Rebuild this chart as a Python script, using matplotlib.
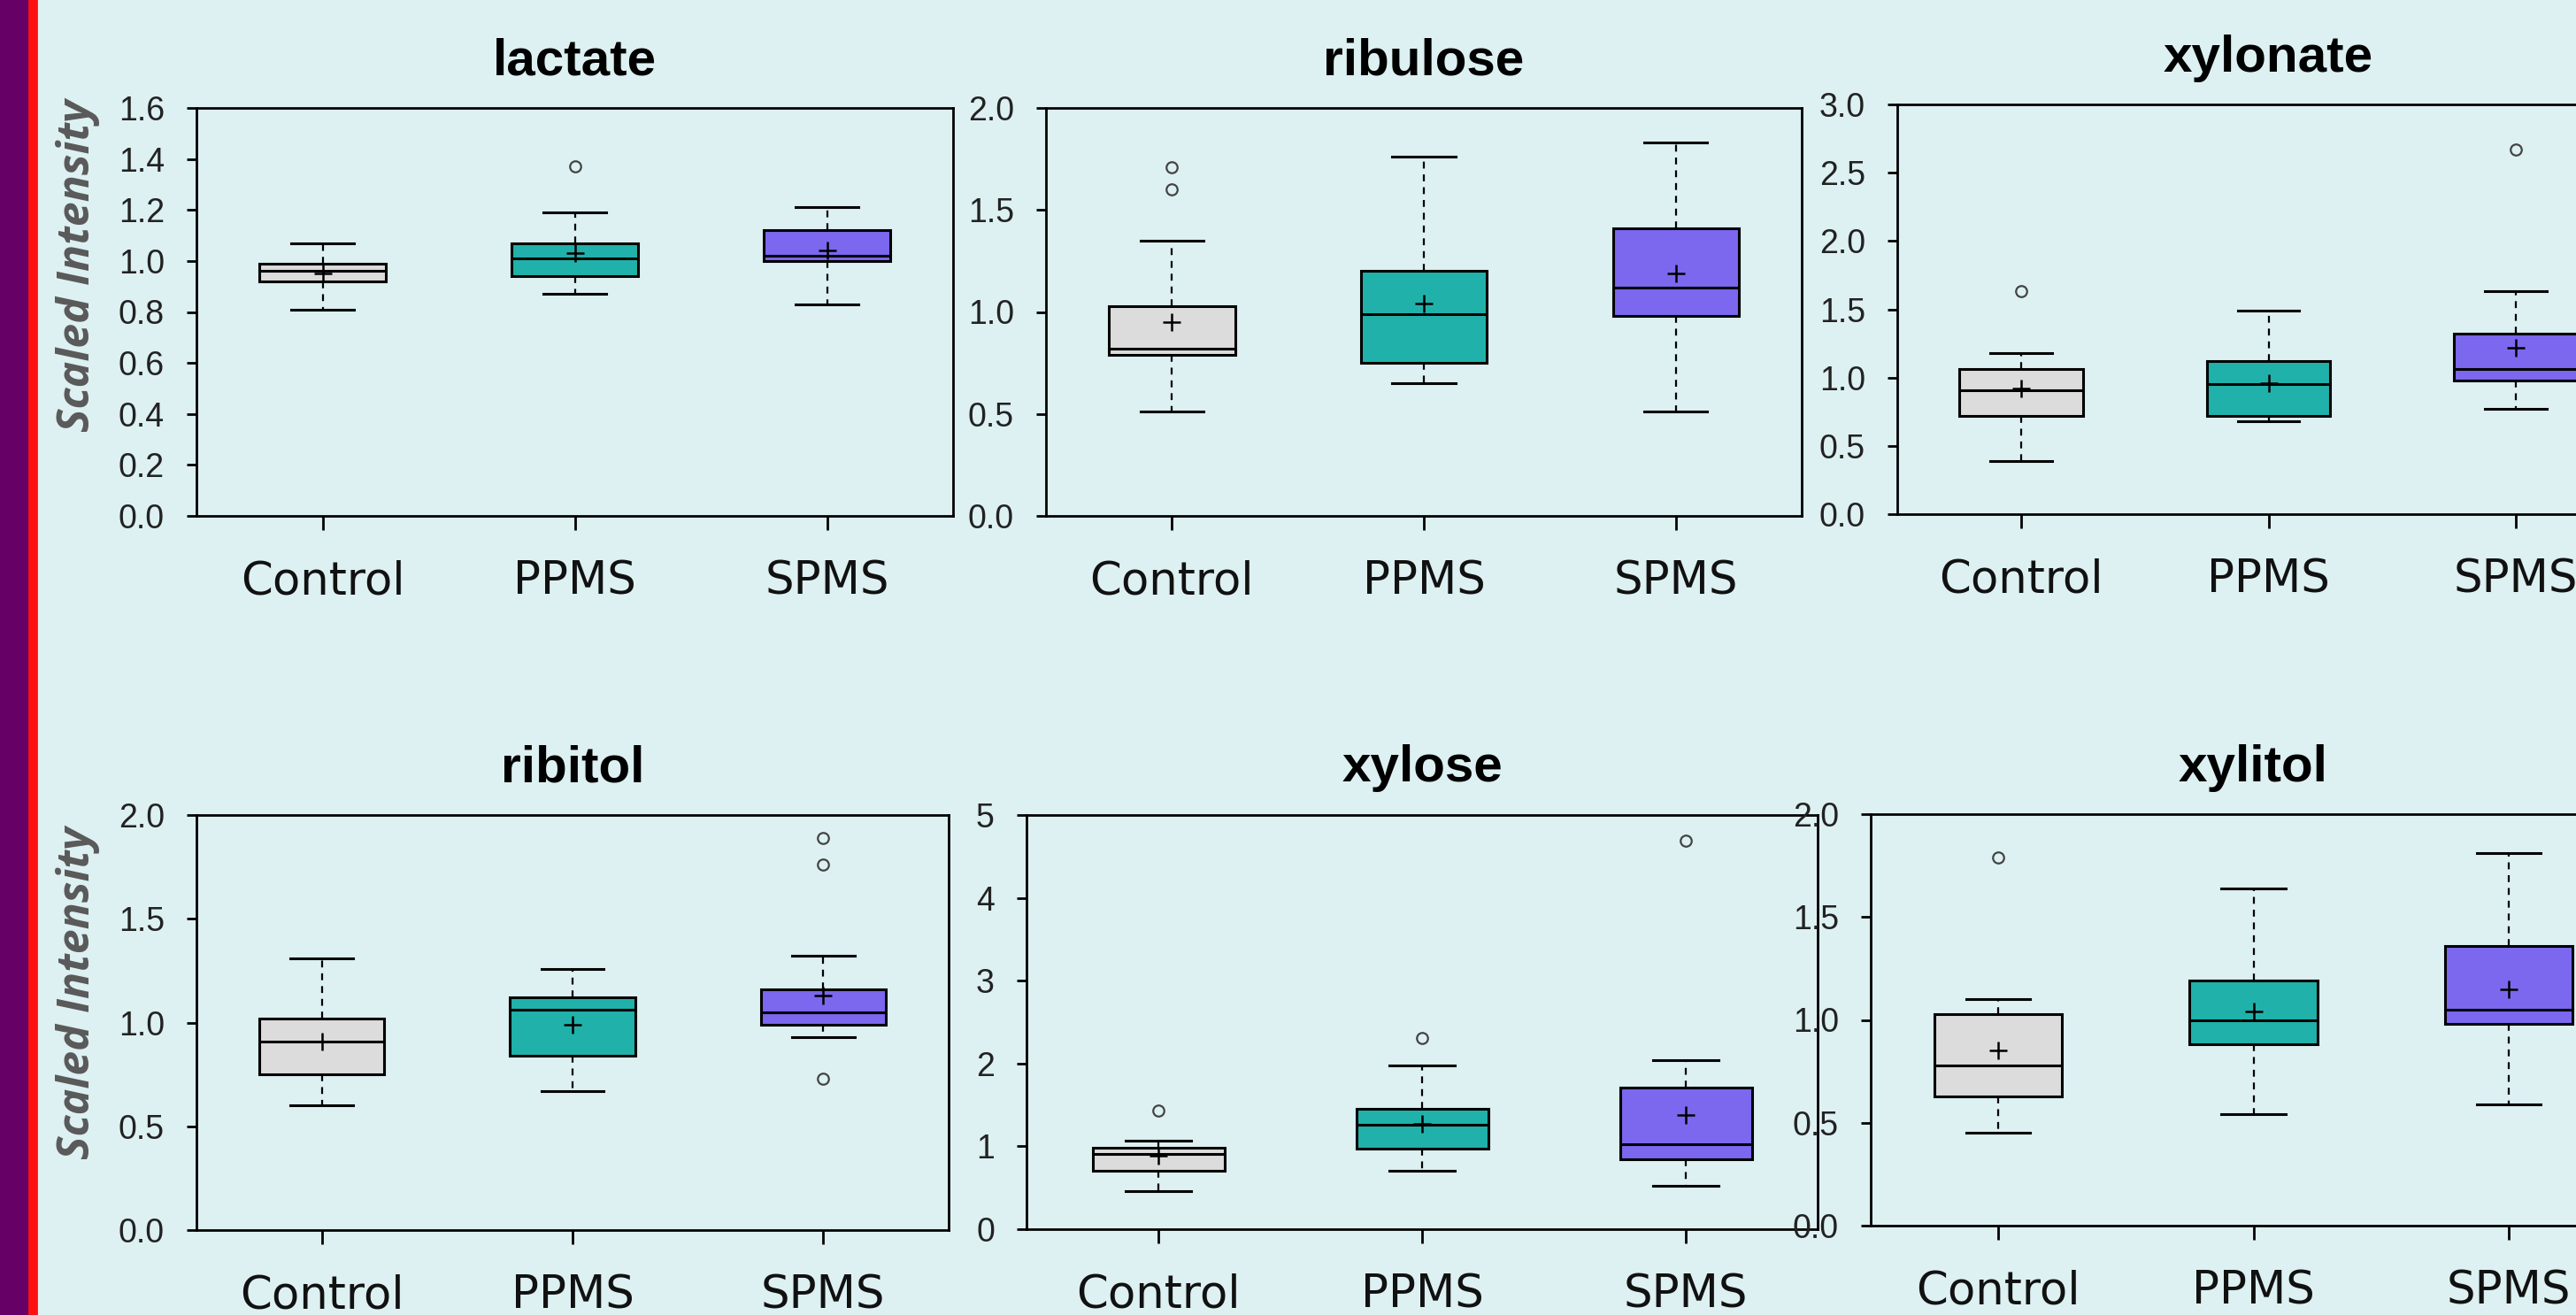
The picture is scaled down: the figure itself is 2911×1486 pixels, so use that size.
import matplotlib.pyplot as plt
from matplotlib.patches import Rectangle

# --- DATA ---
groups = ["Control", "PPMS", "SPMS"]
metabolites = ["lactate", "ribulose", "xylonate", "ribitol", "xylose", "xylitol"]

# one row per metabolite, one value per group
whisker_low = [[0.81, 0.87, 0.83], [0.51, 0.65, 0.51], [0.39, 0.68, 0.77],
               [0.60, 0.67, 0.93], [0.46, 0.71, 0.52], [0.45, 0.54, 0.59]]
q1 = [[0.92, 0.94, 1.00], [0.79, 0.75, 0.98], [0.72, 0.72, 0.98],
      [0.75, 0.84, 0.99], [0.71, 0.97, 0.84], [0.63, 0.88, 0.98]]
median = [[0.96, 1.01, 1.02], [0.82, 0.99, 1.12], [0.91, 0.95, 1.06],
          [0.91, 1.06, 1.05], [0.91, 1.26, 1.03], [0.78, 1.00, 1.05]]
mean = [[0.95, 1.03, 1.04], [0.95, 1.04, 1.19], [0.92, 0.96, 1.22],
        [0.91, 0.99, 1.13], [0.89, 1.27, 1.38], [0.85, 1.04, 1.15]]
q3 = [[0.99, 1.07, 1.12], [1.03, 1.20, 1.41], [1.06, 1.12, 1.32],
      [1.02, 1.12, 1.16], [0.98, 1.45, 1.71], [1.03, 1.19, 1.36]]
whisker_high = [[1.07, 1.19, 1.21], [1.35, 1.76, 1.83], [1.18, 1.49, 1.63],
                [1.31, 1.26, 1.32], [1.07, 1.98, 2.04], [1.10, 1.64, 1.81]]
outliers = [[[], [1.37], []],
            [[1.71, 1.60], [], []],
            [[1.63], [], [2.67]],
            [[], [], [1.89, 1.76, 0.73]],
            [[1.43], [2.31], [4.69]],
            [[1.79], [], []]]

# --- LAYOUT ---
W, H = 2911, 1486
DPI = 200
BG = "#DDF0F2"
box_colors = ["#DCDCDC", "#20B2AA", "#7B68EE"]

# axes boxes in pixels: left, right, top, bottom
panel_px = [(222, 1077, 122, 583), (1182, 2036, 122, 583), (2144, 2983, 118, 581),
            (222, 1072, 921, 1390), (1160, 2054, 921, 1389), (2114, 2979, 920, 1385)]
y_max = [1.6, 2.0, 3.0, 2.0, 5.0, 2.0]
y_step = [0.2, 0.5, 0.5, 0.5, 1.0, 0.5]
y_fmt = ["%.1f", "%.1f", "%.1f", "%.1f", "%d", "%.1f"]

fig = plt.figure(figsize=(W / DPI, H / DPI), dpi=DPI, facecolor=BG)

# left edge strip
fig.patches.append(Rectangle((0, 0), 33 / W, 1, transform=fig.transFigure,
                             color="#660066", zorder=0))
fig.patches.append(Rectangle((33 / W, 0), 8 / W, 1, transform=fig.transFigure,
                             color="#FF1010", zorder=0))

for i, name in enumerate(metabolites):
    x0, x1, yt, yb = panel_px[i]
    ax = fig.add_axes([x0 / W, 1 - yb / H, (x1 - x0) / W, (yb - yt) / H])
    ax.set_facecolor("none")

    stats = []
    for g in range(3):
        stats.append({"whislo": whisker_low[i][g], "q1": q1[i][g],
                      "med": median[i][g], "q3": q3[i][g],
                      "whishi": whisker_high[i][g], "mean": mean[i][g],
                      "fliers": outliers[i][g], "label": groups[g]})

    bp = ax.bxp(stats, positions=[1, 2, 3], widths=0.5, patch_artist=True,
                showmeans=True,
                boxprops=dict(linewidth=1.1, edgecolor="black"),
                medianprops=dict(color="black", linewidth=1.1),
                whiskerprops=dict(color="black", linewidth=0.8, linestyle=(0, (3.5, 3))),
                capprops=dict(color="black", linewidth=1.1),
                meanprops=dict(marker="+", markersize=7, markeredgecolor="black",
                               markeredgewidth=0.9),
                flierprops=dict(marker="o", markersize=4.5, markerfacecolor="none",
                                markeredgecolor="#444444", markeredgewidth=0.8))
    for patch, c in zip(bp["boxes"], box_colors):
        patch.set_facecolor(c)

    ax.set_xlim(0.5, 3.5)
    ax.set_ylim(0, y_max[i])
    n_ticks = int(round(y_max[i] / y_step[i])) + 1
    ticks = [k * y_step[i] for k in range(n_ticks)]
    ax.set_yticks(ticks)
    ax.set_yticklabels([y_fmt[i] % t for t in ticks],
                       family=["Liberation Sans Narrow", "Liberation Sans"],
                       fontsize=13.5, color="#222222")
    ax.set_xticks([1, 2, 3])
    ax.set_xticklabels(groups, family="DejaVu Sans", fontsize=18.5, color="#111111")

    for sp in ax.spines.values():
        sp.set_linewidth(1.0)
    ax.tick_params(axis="y", length=4, width=1.0, pad=9)
    ax.tick_params(axis="x", length=5.7, width=1.0, pad=12)

    ax.set_title(name, fontsize=21, fontweight="bold", family="Liberation Sans",
                 pad=13.5)

# y labels on the left column
for yc in (300, 1122):
    fig.text(88 / W, 1 - yc / H, "Scaled Intensity", rotation=90, ha="center",
             va="center", fontsize=18, fontweight="bold", fontstyle="italic",
             family=["Open Sans", "DejaVu Sans"], color="#595959")

fig.savefig("out.png", dpi=DPI, facecolor=BG)
